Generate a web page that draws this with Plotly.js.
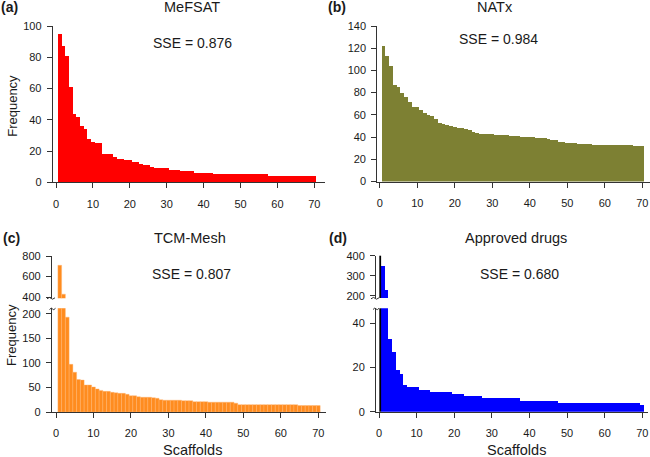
<!DOCTYPE html>
<html>
<head>
<meta charset="utf-8">
<script src="https://cdn.plot.ly/plotly-3.0.1.min.js"></script>
<style>html,body{margin:0;padding:0;background:#fff;}#chart{width:650px;height:457px;}</style>
</head>
<body>
<div id="chart"></div>
<script>
// ---- data ----
const scaffolds = [1,2,3,4,5,6,7,8,9,10,11,12,13,14,15,16,17,18,19,20,21,22,23,24,25,26,27,28,29,30,31,32,33,34,35,36,37,38,39,40,41,42,43,44,45,46,47,48,49,50,51,52,53,54,55,56,57,58,59,60,61,62,63,64,65,66,67,68,69,70];
const mefsat = [95,87,81,61,44,42,36,34,28,26,25,25,18,18,18,16,15,15,14,14,13,13,12,11,11,10,9,9,9,9,8,8,8,7,7,7,7,6,6,6,6,6,5,5,5,5,5,5,5,5,5,5,5,5,5,5,5,4,4,4,4,4,4,4,4,4,4,4,4,4];
const natx = [122,113,104,87,85,80,76,72,67,67,64,62,60,59,56,53,52,51,50,49,48,48,47,46,45,44,43,43,43,43,42,42,42,42,41,41,41,40,40,40,40,39,39,39,38,37,37,36,36,35,35,35,34,34,34,34,33,33,33,33,33,33,33,33,33,33,33,32,32,32];
const tcmMesh = [710,430,193,97,81,66,65,55,55,51,47,44,42,42,40,39,38,38,36,33,33,31,30,30,30,29,28,25,24,24,24,24,24,23,23,23,21,21,21,21,20,20,20,20,20,20,20,18,15,15,15,15,15,15,15,15,15,15,15,15,15,15,15,15,13,13,13,13,13,13];
const approved = [350,230,33,27,19,17,12,11,11,11,10,10,10,9,9,9,9,9,9,8,8,8,7,7,7,7,7,6,6,6,6,6,6,6,6,6,6,5,5,5,5,5,5,5,5,5,5,4,4,4,4,4,4,4,4,4,4,4,4,4,4,4,4,4,4,4,4,4,4,3];
const panelNames = ["MeFSAT","NATx","TCM-Mesh","Approved drugs"];
const panelTags = ["(a)","(b)","(c)","(d)"];
const sseLabels = ["SSE = 0.876","SSE = 0.984","SSE = 0.807","SSE = 0.680"];
const xTicks = [0,10,20,30,40,50,60,70];
const yTicksA = [0,20,40,60,80,100];
const yTicksB = [0,20,40,60,80,100,120,140];
const yTicksCLow = [0,50,100,150,200];
const yTicksCHigh = [400,600,800];
const yTicksDLow = [0,20,40];
const yTicksDHigh = [200,300,400];

// ---- layout helpers ----
const W = 650, H = 457;
const fx = p => p / W;
const fy = p => 1 - p / H;
const FONT = "Liberation Sans, Arial, sans-serif";
const INK = "#1a1a1a";
const AX = "#333333";

function xAxis(dom, range, anchor) {
  return {domain:[fx(dom[0]), fx(dom[1])], range:range, anchor:anchor,
    showline:true, linecolor:AX, linewidth:1, ticks:"outside", ticklen:5, tickcolor:AX,
    tickvals:xTicks, showgrid:false, zeroline:false, tickfont:{family:FONT,size:11,color:INK},
    ticklabelstandoff:6, fixedrange:true};
}
function yAxis(dom, range, anchor, vals) {
  return {domain:[fy(dom[1]), fy(dom[0])], range:range, anchor:anchor,
    showline:true, linecolor:AX, linewidth:1, ticks:"outside", ticklen:5, tickcolor:AX,
    tickvals:vals, showgrid:false, zeroline:false, tickfont:{family:FONT,size:11,color:INK},
    ticklabelstandoff:3, fixedrange:true};
}
function bar(y, xa, ya, color, line) {
  return {type:"bar", x:scaffolds, y:y, xaxis:xa, yaxis:ya, width:1,
    marker:{color:color, line:line || {width:0}}, hoverinfo:"skip", showlegend:false};
}

const data = [
  bar(mefsat, "x", "y", "#ff0000"),
  bar(natx, "x2", "y2", "#7d8033"),
  bar(tcmMesh, "x3", "y3", "#ff8c1f", {width:0.4, color:"#ffb574"}),
  bar(tcmMesh, "x3", "y5", "#ff8c1f", {width:0.4, color:"#ffb574"}),
  bar(approved, "x4", "y4", "#0000ff"),
  bar(approved, "x4", "y6", "#0000ff")
];

function ann(text, x, y, size, opts) {
  return Object.assign({text:text, x:fx(x), y:fy(y), xref:"paper", yref:"paper",
    xanchor:"center", yanchor:"middle", showarrow:false,
    font:{family:FONT, size:size, color:INK}}, opts || {});
}

const annotations = [
  ann("<b>"+panelTags[0]+"</b>", 9, 7, 14),
  ann("<b>"+panelTags[1]+"</b>", 337, 7, 14),
  ann("<b>"+panelTags[2]+"</b>", 11, 237.5, 14),
  ann("<b>"+panelTags[3]+"</b>", 338, 237.5, 14),
  ann(panelNames[0], 191.7, 7, 14.5),
  ann(panelNames[1], 494.7, 7, 14.5),
  ann(panelNames[2], 190, 237.5, 14.5),
  ann(panelNames[3], 516.2, 237.5, 14.5),
  ann(sseLabels[0], 192, 42.5, 14),
  ann(sseLabels[1], 498.8, 38.8, 14),
  ann(sseLabels[2], 191.3, 273.8, 14),
  ann(sseLabels[3], 519.2, 274, 14),
  ann("Frequency", 13, 105.8, 13, {textangle:-90}),
  ann("Frequency", 11.7, 335.3, 13, {textangle:-90}),
  ann("Scaffolds", 192.3, 450, 14.5),
  ann("Scaffolds", 516.3, 450, 14.5)
];

function squiggle(x0, y0, x1, y1) {
  const mx = (x0 + x1) / 2;
  return {type:"path", xref:"paper", yref:"paper",
    path:"M "+fx(x0)+" "+fy(y0)+" Q "+fx(mx-1)+" "+fy(y0-2.5)+" "+fx(mx)+" "+fy((y0+y1)/2)+" T "+fx(x1)+" "+fy(y1),
    line:{color:AX, width:1}};
}

const shapes = [
  squiggle(47, 298.8, 55, 297.8),
  squiggle(49.5, 309.5, 55.5, 308.3),
  squiggle(371, 298.8, 379, 297.8),
  squiggle(373, 309.5, 379, 308.3),
  {type:"line", xref:"x4", yref:"y4 domain", x0:0.32, x1:0.32, y0:0, y1:1, line:{color:"#000000", width:1.8}},
  {type:"line", xref:"x4", yref:"y6 domain", x0:0.32, x1:0.32, y0:0, y1:1, line:{color:"#000000", width:1.8}}
];

const layout = {
  width:W, height:H, margin:{l:0,r:0,t:0,b:0}, paper_bgcolor:"#ffffff", plot_bgcolor:"rgba(0,0,0,0)",
  bargap:0, showlegend:false, font:{family:FONT, color:INK},
  xaxis: xAxis([52.7, 325.4], [-0.9, 73], "y"),
  yaxis: yAxis([26, 182.3], [0, 100], "x", yTicksA),
  xaxis2: xAxis([377.2, 649.8], [-0.7, 72], "y2"),
  yaxis2: yAxis([26, 181.5], [0, 140], "x2", yTicksB),
  xaxis3: xAxis([51.9, 325.8], [-1.1, 72], "y3"),
  yaxis3: yAxis([308.3, 412], [0, 211], "x3", yTicksCLow),
  yaxis5: yAxis([256, 298.3], [390, 800], "x3", yTicksCHigh),
  xaxis4: xAxis([376, 648.3], [-0.8, 71.6], "y4"),
  yaxis4: yAxis([308.3, 411.7], [0, 46.8], "x4", yTicksDLow),
  yaxis6: yAxis([255.7, 298], [190, 400], "x4", yTicksDHigh),
  annotations: annotations,
  shapes: shapes
};

Plotly.newPlot("chart", data, layout, {staticPlot:true, displayModeBar:false});
</script>
</body>
</html>
